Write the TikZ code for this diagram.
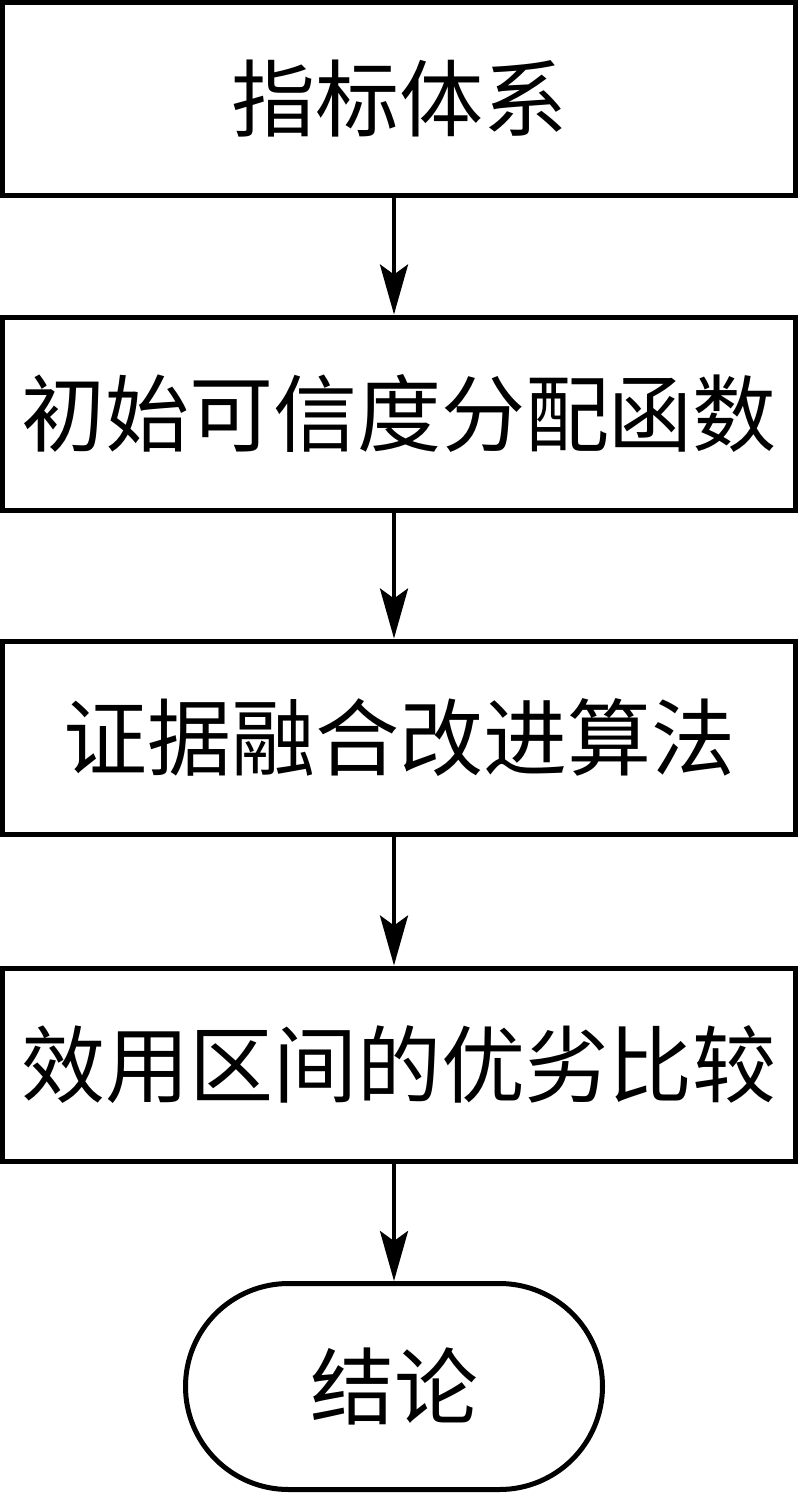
\documentclass[tikz,border=0pt]{standalone}
\usepackage{fontspec}
\newfontfamily\cjk{Noto Sans CJK SC}
\usetikzlibrary{arrows.meta}
\begin{document}
\begin{tikzpicture}[x=0.5pt,y=-0.5pt,
  stepbox/.style={draw=black,line width=2.5pt,minimum width=396.5pt,minimum height=96.5pt,inner sep=0pt,font=\cjk\fontsize{42pt}{42pt}\selectfont},
  endbox/.style={draw=black,line width=2.5pt,minimum width=208.5pt,minimum height=103pt,rounded corners=51.5pt,inner sep=0pt,font=\cjk\fontsize{42pt}{42pt}\selectfont},
  flow/.style={line width=2pt,-{Stealth[length=25pt,width=14pt,inset=5pt]}}]
\useasboundingbox (0,0) rectangle (800,1494);
\node[stepbox] (a) at (399,99) {指标体系};
\node[stepbox] (b) at (399,413.5) {初始可信度分配函数};
\node[stepbox] (c) at (399,737.5) {证据融合改进算法};
\node[stepbox] (d) at (399,1064.5) {效用区间的优劣比较};
\node[endbox] (e) at (394,1386.5) {结论};
\draw[flow] (a.south -| 394,0) -- (b.north -| 394,0);
\draw[flow] (b.south -| 394,0) -- (c.north -| 394,0);
\draw[flow] (c.south -| 394,0) -- (d.north -| 394,0);
\draw[flow] (d.south -| 394,0) -- (e.north);
\end{tikzpicture}
\end{document}
